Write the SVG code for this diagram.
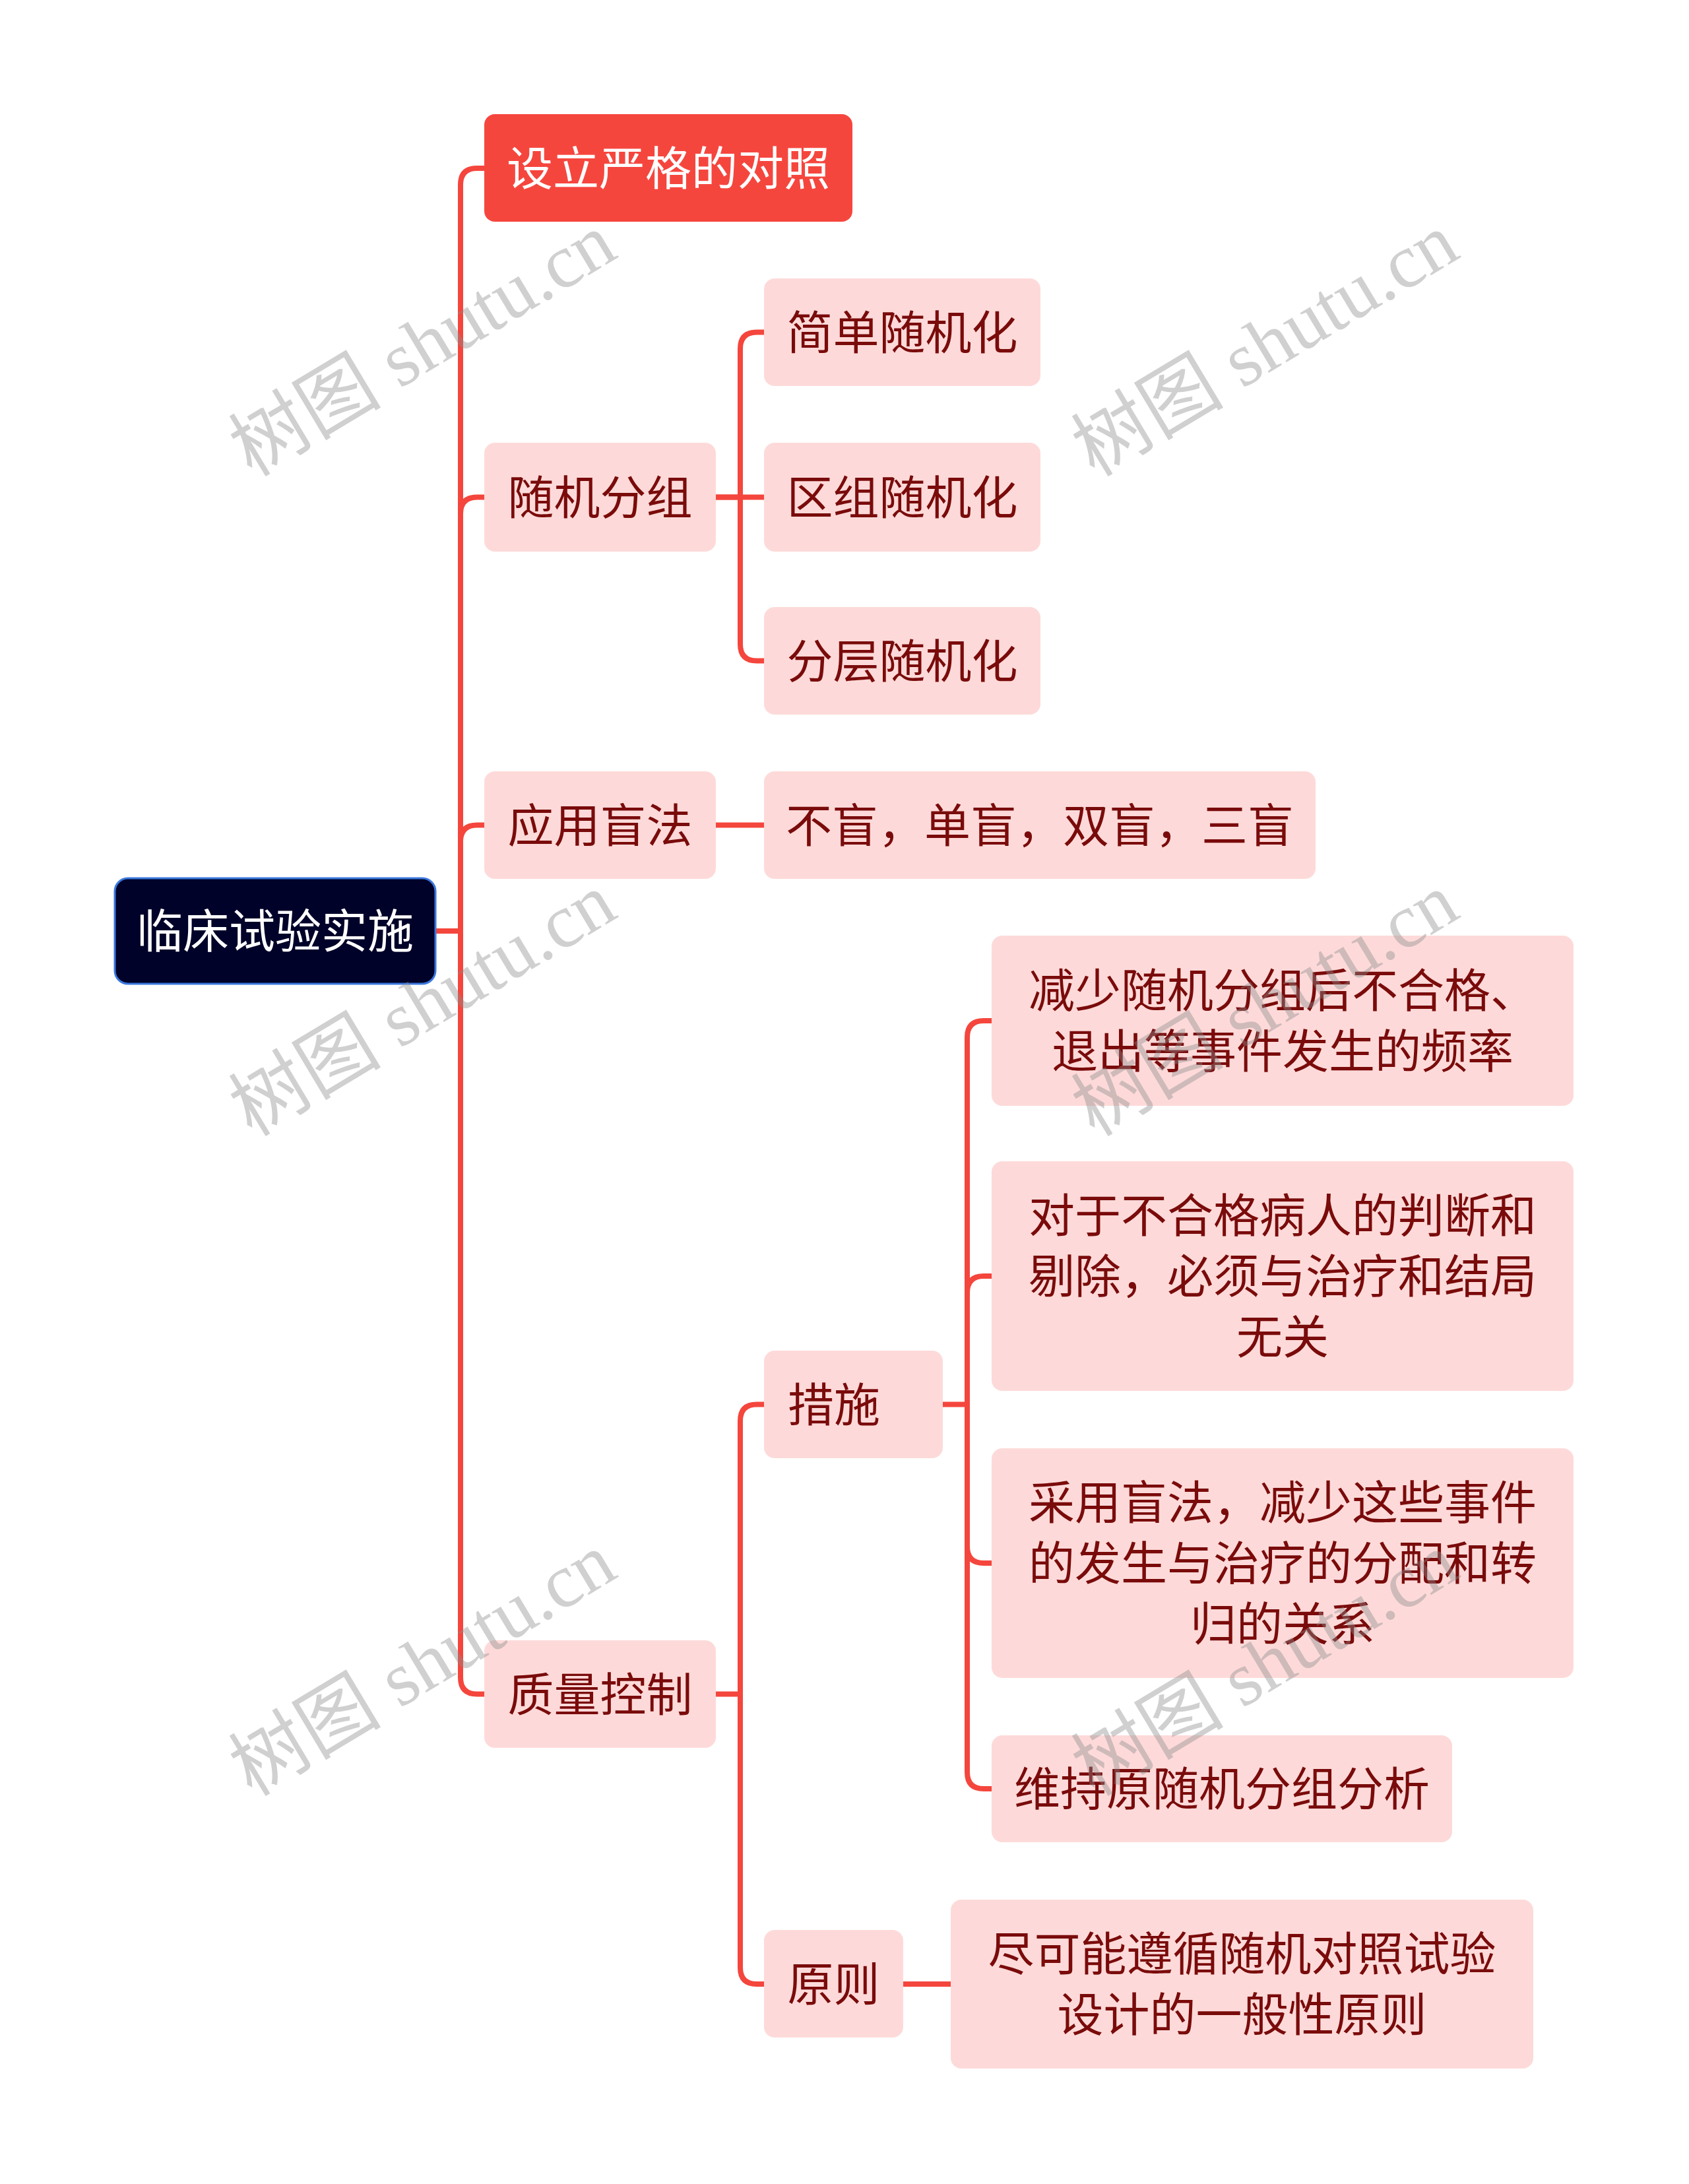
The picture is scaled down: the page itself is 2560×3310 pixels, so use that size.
<svg xmlns="http://www.w3.org/2000/svg" width="2560" height="3310" viewBox="0 0 2560 3310">
<style>
.bg{fill:#ffffff}
.ln{fill:none;stroke:#F4463D;stroke-width:8;stroke-linecap:butt;stroke-linejoin:round}
.pk{fill:#FDDAD9}
.rd{fill:#F5463E}
.rt{fill:#000229;stroke:#3B78DD;stroke-width:3}
.t{font-family:"Noto Sans CJK SC","Noto Sans",sans-serif;font-size:70px;text-anchor:middle;fill:#7A0B0B}
.ts{text-anchor:start}
.tw{fill:#ffffff}
.wm{font-family:"Liberation Serif","Noto Sans CJK SC",serif;font-size:116px;text-anchor:middle;fill:#8c8c8c;opacity:0.4}
</style>
<rect class="bg" x="0" y="0" width="2560" height="3310"/>
<g id="connectors">
<path class="ln" d="M661 1411 H698 V280 Q698 255 723 255 H736"/>
<path class="ln" d="M698 1411 V778.5 Q698 753.5 723 753.5 H736"/>
<path class="ln" d="M698 1411 V1275.5 Q698 1250.5 723 1250.5 H736"/>
<path class="ln" d="M698 1411 V2542.5 Q698 2567.5 723 2567.5 H736"/>
<path class="ln" d="M1083 753.5 H1122 V528.5 Q1122 503.5 1147 503.5 H1160"/>
<path class="ln" d="M1083 753.5 H1160"/>
<path class="ln" d="M1122 753.5 V976.5 Q1122 1001.5 1147 1001.5 H1160"/>
<path class="ln" d="M1083 1250.5 H1160"/>
<path class="ln" d="M1083 2567.5 H1122 V2153.5 Q1122 2128.5 1147 2128.5 H1160"/>
<path class="ln" d="M1122 2567.5 V2982 Q1122 3007 1147 3007 H1160"/>
<path class="ln" d="M1427 2128.5 H1466 V1572 Q1466 1547 1491 1547 H1505"/>
<path class="ln" d="M1466 2128.5 V1959 Q1466 1934 1491 1934 H1505"/>
<path class="ln" d="M1466 2128.5 V2344 Q1466 2369 1491 2369 H1505"/>
<path class="ln" d="M1466 2128.5 V2686 Q1466 2711 1491 2711 H1505"/>
<path class="ln" d="M1367 3007 H1443"/>
</g>
<g id="root">
<rect class="rt" x="174" y="1331" width="486" height="160" rx="20"/>
<text class="t tw" x="417" y="1437">临床试验实施</text>
</g>
<g id="n1">
<rect class="rd" x="734" y="173" width="558" height="163" rx="16"/>
<text class="t tw" x="1013" y="281">设立严格的对照</text>
</g>
<g id="n2">
<rect class="pk" x="734" y="671" width="351" height="165" rx="16"/>
<text class="t" x="909.5" y="780">随机分组</text>
</g>
<g id="n2a">
<rect class="pk" x="1158" y="422" width="419" height="163" rx="16"/>
<text class="t" x="1367.5" y="530">简单随机化</text>
</g>
<g id="n2b">
<rect class="pk" x="1158" y="671" width="419" height="165" rx="16"/>
<text class="t" x="1367.5" y="780">区组随机化</text>
</g>
<g id="n2c">
<rect class="pk" x="1158" y="920" width="419" height="163" rx="16"/>
<text class="t" x="1367.5" y="1028">分层随机化</text>
</g>
<g id="n3">
<rect class="pk" x="734" y="1169" width="351" height="163" rx="16"/>
<text class="t" x="909.5" y="1277">应用盲法</text>
</g>
<g id="n3a">
<rect class="pk" x="1158" y="1169" width="836" height="163" rx="16"/>
<text class="t" x="1576" y="1277">不盲，单盲，双盲，三盲</text>
</g>
<g id="n4">
<rect class="pk" x="734" y="2486" width="351" height="163" rx="16"/>
<text class="t" x="909.5" y="2594">质量控制</text>
</g>
<g id="n4a">
<rect class="pk" x="1158" y="2047" width="271" height="163" rx="16"/>
<text class="t ts" x="1194" y="2155">措施</text>
</g>
<g id="n4a1">
<rect class="pk" x="1503" y="1418" width="882" height="258" rx="16"/>
<text class="t" x="1944" y="1527">减少随机分组后不合格、</text>
<text class="t" x="1944" y="1619">退出等事件发生的频率</text>
</g>
<g id="n4a2">
<rect class="pk" x="1503" y="1760" width="882" height="348" rx="16"/>
<text class="t" x="1944" y="1868">对于不合格病人的判断和</text>
<text class="t" x="1944" y="1960">剔除，必须与治疗和结局</text>
<text class="t" x="1944" y="2052">无关</text>
</g>
<g id="n4a3">
<rect class="pk" x="1503" y="2195" width="882" height="348" rx="16"/>
<text class="t" x="1944" y="2303">采用盲法，减少这些事件</text>
<text class="t" x="1944" y="2395">的发生与治疗的分配和转</text>
<text class="t" x="1944" y="2487">归的关系</text>
</g>
<g id="n4a4">
<rect class="pk" x="1503" y="2630" width="698" height="162" rx="16"/>
<text class="t" x="1852" y="2737">维持原随机分组分析</text>
</g>
<g id="n4b">
<rect class="pk" x="1158" y="2925" width="211" height="163" rx="16"/>
<text class="t" x="1263.5" y="3033">原则</text>
</g>
<g id="n4b1">
<rect class="pk" x="1441" y="2879" width="883" height="256" rx="16"/>
<text class="t" x="1882.5" y="2987">尽可能遵循随机对照试验</text>
<text class="t" x="1882.5" y="3079">设计的一般性原则</text>
</g>
<g id="watermarks">
<text class="wm" transform="translate(640 522) rotate(-31)" y="40">树图 shutu.cn</text>
<text class="wm" transform="translate(1917 522) rotate(-31)" y="40">树图 shutu.cn</text>
<text class="wm" transform="translate(640 1522) rotate(-31)" y="40">树图 shutu.cn</text>
<text class="wm" transform="translate(1917 1522) rotate(-31)" y="40">树图 shutu.cn</text>
<text class="wm" transform="translate(640 2522) rotate(-31)" y="40">树图 shutu.cn</text>
<text class="wm" transform="translate(1917 2522) rotate(-31)" y="40">树图 shutu.cn</text>
</g>
</svg>
